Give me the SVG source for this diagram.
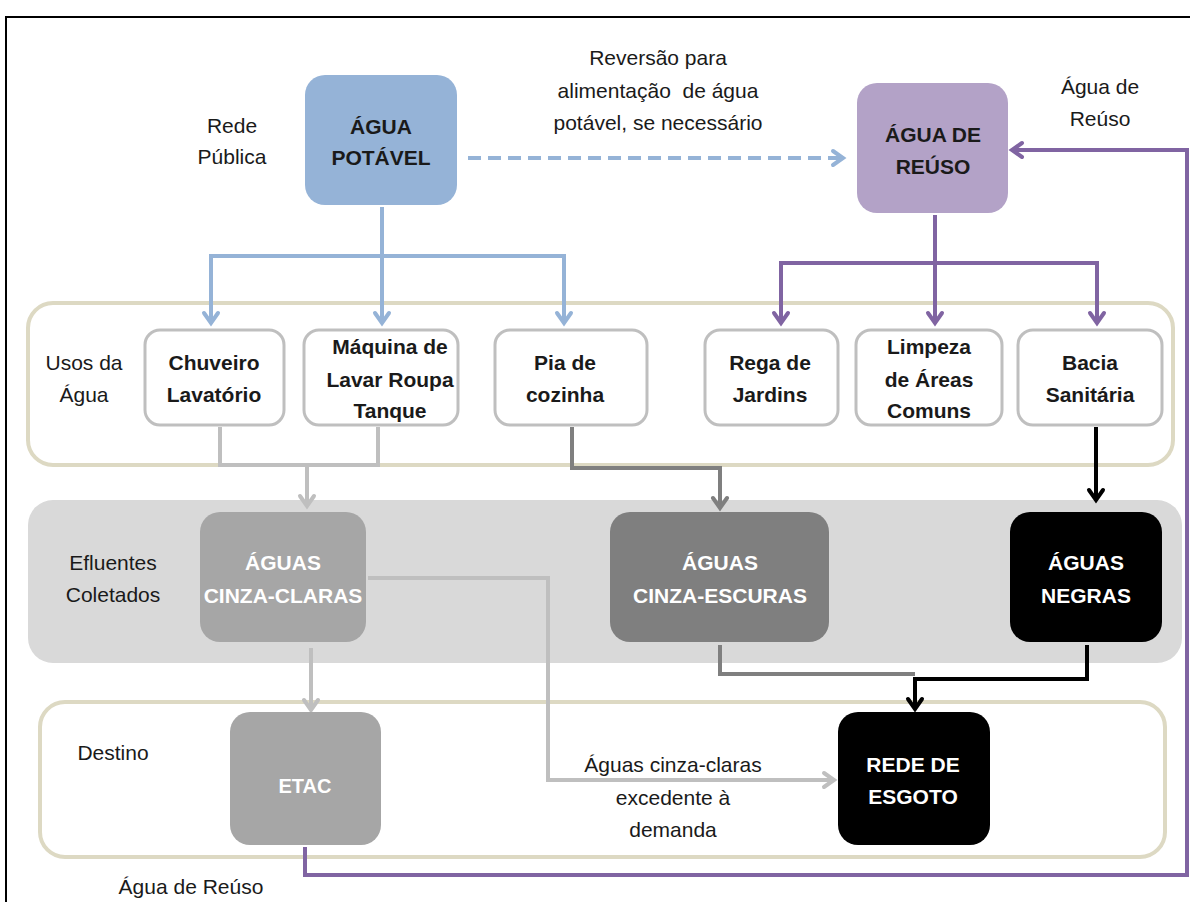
<svg xmlns="http://www.w3.org/2000/svg" width="1190" height="902" viewBox="0 0 1190 902">
<defs>
<style>
text{font-family:"Liberation Sans",Arial,sans-serif;text-anchor:middle;fill:#1a1a1a}
.lbl{font-size:21px}
.b{font-size:21px;font-weight:bold}
.w{fill:#ffffff}
.use{fill:#ffffff;stroke:#BFBFBF;stroke-width:3}
.ln{fill:none;stroke-width:4;stroke-linejoin:miter}
.blue{stroke:#95B3D7}
.pur{stroke:#8064A2}
.lg{stroke:#BFBFBF}
.dg{stroke:#7F7F7F}
.bk{stroke:#000000}
</style>
<marker id="aBlue" markerUnits="userSpaceOnUse" markerWidth="20" markerHeight="20" refX="14" refY="10" orient="auto"><path d="M4,3 L14,10 L4,17" fill="none" stroke="#95B3D7" stroke-width="4" stroke-linecap="round"/></marker>
<marker id="aPur" markerUnits="userSpaceOnUse" markerWidth="20" markerHeight="20" refX="14" refY="10" orient="auto"><path d="M4,3 L14,10 L4,17" fill="none" stroke="#8064A2" stroke-width="4" stroke-linecap="round"/></marker>
<marker id="aLg" markerUnits="userSpaceOnUse" markerWidth="20" markerHeight="20" refX="14" refY="10" orient="auto"><path d="M4,3 L14,10 L4,17" fill="none" stroke="#BFBFBF" stroke-width="4" stroke-linecap="round"/></marker>
<marker id="aDg" markerUnits="userSpaceOnUse" markerWidth="20" markerHeight="20" refX="14" refY="10" orient="auto"><path d="M4,3 L14,10 L4,17" fill="none" stroke="#7F7F7F" stroke-width="4" stroke-linecap="round"/></marker>
<marker id="aBk" markerUnits="userSpaceOnUse" markerWidth="20" markerHeight="20" refX="14" refY="10" orient="auto"><path d="M4,3 L14,10 L4,17" fill="none" stroke="#000000" stroke-width="4" stroke-linecap="round"/></marker>
</defs>
<rect width="1190" height="902" fill="#ffffff"/>
<rect x="6" y="17" width="1250" height="950" fill="none" stroke="#000000" stroke-width="2"/>

<g id="containers">
<rect id="usos" x="28" y="303" width="1145" height="162" rx="25" fill="#ffffff" stroke="#DDD9C3" stroke-width="4"/>
<rect id="efluentes" x="28" y="500" width="1154" height="163" rx="25" fill="#D9D9D9"/>
<rect id="destino" x="40" y="702" width="1125" height="155" rx="25" fill="#ffffff" stroke="#DDD9C3" stroke-width="4"/>
</g>

<g id="labels">
<text class="lbl" x="232" y="133">Rede</text>
<text class="lbl" x="232" y="164">Pública</text>
<text class="lbl" x="658" y="65">Reversão para</text>
<text class="lbl" x="658" y="98" xml:space="preserve">alimentação  de água</text>
<text class="lbl" x="658" y="130">potável, se necessário</text>
<text class="lbl" x="1100" y="94">Água de</text>
<text class="lbl" x="1100" y="126">Reúso</text>
<text class="lbl" x="84" y="370">Usos da</text>
<text class="lbl" x="84" y="402">Água</text>
<text class="lbl" x="113" y="570">Efluentes</text>
<text class="lbl" x="113" y="602">Coletados</text>
<text class="lbl" x="113" y="760">Destino</text>
<text class="lbl" x="191" y="894">Água de Reúso</text>
<text class="lbl" x="673" y="772">Águas cinza-claras</text>
<text class="lbl" x="673" y="805">excedente à</text>
<text class="lbl" x="673" y="837">demanda</text>
</g>

<g id="connectors">
<path class="ln blue" d="M468,158 H843" stroke-dasharray="13 7" marker-end="url(#aBlue)"/>
<path class="ln blue" d="M382,207 V256 H211 V323" marker-end="url(#aBlue)"/>
<path class="ln blue" d="M382,256 H564 V323" marker-end="url(#aBlue)"/>
<path class="ln blue" d="M382,256 V323" marker-end="url(#aBlue)"/>
<path class="ln pur" d="M935,215 V263 H781 V323" marker-end="url(#aPur)"/>
<path class="ln pur" d="M935,263 H1097 V323" marker-end="url(#aPur)"/>
<path class="ln pur" d="M935,263 V323" marker-end="url(#aPur)"/>
<path class="ln pur" d="M305,847 V875 H1187 V150 H1012" marker-end="url(#aPur)"/>
<path class="ln lg" d="M220,427 V465 H378 V427"/>
<path class="ln lg" d="M307,465 V506" marker-end="url(#aLg)"/>
<path class="ln dg" d="M572,427 V468 H720 V508" marker-end="url(#aDg)"/>
<path class="ln bk" d="M1096,427 V500" marker-end="url(#aBk)"/>
<path class="ln lg" d="M368,578 H548 V780 H834" marker-end="url(#aLg)"/>
<path class="ln lg" d="M311,648 V710" marker-end="url(#aLg)"/>
<path class="ln dg" d="M720,645 V674 H915"/>
<path class="ln bk" d="M1087,645 V679 H915 V709" marker-end="url(#aBk)"/>
</g>

<g id="agua-potavel">
<rect x="305" y="75" width="152" height="130" rx="20" fill="#95B3D7"/>
<text class="b" x="381" y="134">ÁGUA</text>
<text class="b" x="381" y="165">POTÁVEL</text>
</g>
<g id="agua-reuso">
<rect x="857" y="83" width="151" height="130" rx="20" fill="#B3A2C7"/>
<text class="b" x="933" y="142">ÁGUA DE</text>
<text class="b" x="933" y="174">REÚSO</text>
</g>

<g id="chuveiro">
<rect class="use" x="145" y="330" width="139" height="95" rx="15"/>
<text class="b" x="214" y="370">Chuveiro</text>
<text class="b" x="214" y="402">Lavatório</text>
</g>
<g id="maquina">
<rect class="use" x="304" y="330" width="154" height="95" rx="15"/>
<text class="b" x="390" y="354">Máquina de</text>
<text class="b" x="390" y="387">Lavar Roupa</text>
<text class="b" x="390" y="418">Tanque</text>
</g>
<g id="pia">
<rect class="use" x="495" y="330" width="152" height="95" rx="15"/>
<text class="b" x="565" y="370">Pia de</text>
<text class="b" x="565" y="402">cozinha</text>
</g>
<g id="rega">
<rect class="use" x="705" y="330" width="133" height="95" rx="15"/>
<text class="b" x="770" y="370">Rega de</text>
<text class="b" x="770" y="402">Jardins</text>
</g>
<g id="limpeza">
<rect class="use" x="856" y="330" width="146" height="95" rx="15"/>
<text class="b" x="929" y="354">Limpeza</text>
<text class="b" x="929" y="387">de Áreas</text>
<text class="b" x="929" y="418">Comuns</text>
</g>
<g id="bacia">
<rect class="use" x="1018" y="330" width="144" height="95" rx="15"/>
<text class="b" x="1090" y="370">Bacia</text>
<text class="b" x="1090" y="402">Sanitária</text>
</g>

<g id="cinza-claras">
<rect x="200" y="512" width="166" height="130" rx="20" fill="#A6A6A6"/>
<text class="b w" x="283" y="570">ÁGUAS</text>
<text class="b w" x="283" y="603">CINZA-CLARAS</text>
</g>
<g id="cinza-escuras">
<rect x="610" y="512" width="219" height="130" rx="20" fill="#7F7F7F"/>
<text class="b w" x="720" y="570">ÁGUAS</text>
<text class="b w" x="720" y="603">CINZA-ESCURAS</text>
</g>
<g id="negras">
<rect x="1010" y="512" width="152" height="130" rx="20" fill="#000000"/>
<text class="b w" x="1086" y="570">ÁGUAS</text>
<text class="b w" x="1086" y="603">NEGRAS</text>
</g>

<g id="etac">
<rect x="230" y="712" width="151" height="133" rx="20" fill="#A6A6A6"/>
<text class="b w" x="305" y="793" style="font-size:20px">ETAC</text>
</g>
<g id="rede-esgoto">
<rect x="838" y="712" width="152" height="133" rx="20" fill="#000000"/>
<text class="b w" x="913" y="772">REDE DE</text>
<text class="b w" x="913" y="804">ESGOTO</text>
</g>
</svg>
